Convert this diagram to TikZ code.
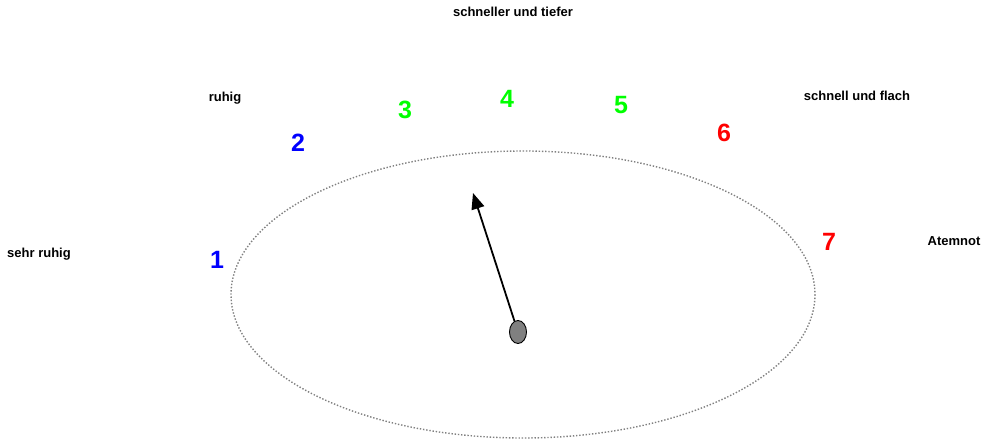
\documentclass[tikz,border=0pt]{standalone}
\usepackage{fontspec}
\setmainfont{Liberation Sans}
\usetikzlibrary{positioning, shapes.geometric, arrows.meta}
\definecolor{numBlue}{RGB}{0, 0, 255}
\definecolor{numGreen}{RGB}{0, 255, 0}
\definecolor{numRed}{RGB}{255, 0, 0}
\begin{document}
\begin{tikzpicture}[
      x=1pt, y=-1pt,
      label/.style={font=\fontsize{13}{15}\selectfont\bfseries, inner sep=0pt},
      num/.style={font=\fontsize{25}{28}\selectfont\bfseries, inner sep=0pt},
      dial/.style={draw=gray, line width=1.4pt, dash pattern=on 1.4pt off 1.8pt},
      pivot/.style={ellipse, draw=black, fill=gray, line width=0.9pt, minimum width=17pt, minimum height=23pt, inner sep=0pt},
      arrow/.style={-{Triangle[length=16pt, width=13pt]}, line width=1.8pt, black}
    ]
      \useasboundingbox (0,0) rectangle (983,439);
      % Skala
      \draw[dial] (523,294.5) ellipse [x radius=292, y radius=143.5];
      % Beschriftung
      \node[label] (sehrruhig) at (39,254) {sehr ruhig};
      \node[label] (ruhig) at (225,98) {ruhig};
      \node[label] (tiefer) at (513,12) {schneller und tiefer};
      \node[label] (flach) at (857,96) {schnell und flach};
      \node[label] (atemnot) at (954,241) {Atemnot};
      % Stufen
      \node[num, numBlue] (n1) at (217,260) {1};
      \node[num, numBlue] (n2) at (298,143) {2};
      \node[num, numGreen] (n3) at (405,110) {3};
      \node[num, numGreen] (n4) at (507,99) {4};
      \node[num, numGreen] (n5) at (621,105) {5};
      \node[num, numRed] (n6) at (724,133) {6};
      \node[num, numRed] (n7) at (829,242) {7};
      % Zeiger
      \node[pivot] (pivot) at (518,332) {};
      \coordinate (tip) at (473,193);
      \draw[arrow] (pivot) -- (tip);
    \end{tikzpicture}
\end{document}
